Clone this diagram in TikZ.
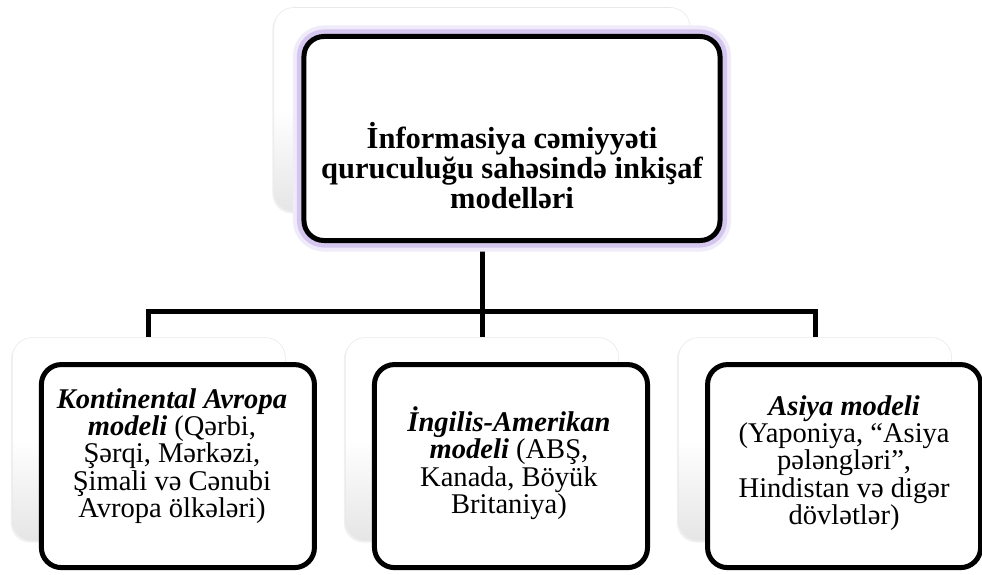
\documentclass[tikz,border=0pt]{standalone}
\usepackage{fontspec}
\setmainfont{Liberation Serif}
\usetikzlibrary{calc}
\usetikzlibrary{backgrounds}
\usetikzlibrary{shadows}
\definecolor{glowin}{RGB}{212,198,238}
\definecolor{glowout}{RGB}{240,235,250}
\tikzset{backcard/.style={rectangle, rounded corners=0.5cm, draw=black!9, line width=0.4pt, top color=white, bottom color=black!10, middle color=white, drop shadow={shadow xshift=-0.04cm, shadow yshift=-0.05cm, fill=black!20, opacity=0.3}},
frontbox/.style={rectangle, rounded corners=0.5cm, draw=black, line width=0.125cm, fill=white},
glowbox/.style={frontbox, preaction={draw=glowout, line width=0.55cm}, preaction={draw=glowin, line width=0.35cm}},
link/.style={line width=0.125cm, draw=black},
headtext/.style={align=center, font=\fontsize{21.7}{21.3}\selectfont\bfseries},
modeltext/.style={align=center, font=\fontsize{20.3}{19.5}\selectfont}}

\begin{document}
\begin{tikzpicture}[x=0.025cm, y=0.025cm]
\useasboundingbox (0,0) rectangle (982,574);

\node (topback) [backcard, minimum width=10.4cm, minimum height=5.1cm] at (482,464.5) {};
\node (midback) [backcard, minimum width=6.825cm, minimum height=5.075cm, below of=topback, node distance=8.2375cm] {};
\node (leftback) [backcard, minimum width=6.825cm, minimum height=5.075cm, left of=midback, node distance=8.325cm] {};
\node (rightback) [backcard, minimum width=6.825cm, minimum height=5.075cm, right of=midback, node distance=8.325cm] {};

\node (topfront) [glowbox, minimum width=10.4cm, minimum height=5.1cm] at ($(topback)+(30,-29)$) {};
\node (leftfront) [frontbox, minimum width=6.825cm, minimum height=5.075cm] at ($(leftback)+(29,-27)$) {};
\node (midfront) [frontbox, minimum width=6.825cm, minimum height=5.075cm] at ($(midback)+(29,-27)$) {};
\node (rightfront) [frontbox, minimum width=6.825cm, minimum height=5.075cm] at ($(rightback)+(29,-27)$) {};

\node (toptext) [headtext] at ($(topfront)+(0,-27)$) {İnformasiya cəmiyyəti\\quruculuğu sahəsində inkişaf\\modelləri};
\node (lefttext) [modeltext] at ($(leftfront)+(-6,10)$) {\textbf{\textit{Kontinental Avropa}}\\\textbf{\textit{modeli}} (Qərbi,\\Şərqi, Mərkəzi,\\Şimali və Cənubi\\Avropa ölkələri)};
\node (midtext) [modeltext] at ($(midfront)+(-2,3)$) {\textbf{\textit{İngilis-Amerikan}}\\\textbf{\textit{modeli}} (ABŞ,\\Kanada, Böyük\\Britaniya)};
\node (righttext) [modeltext] at ($(rightfront)+(0,3)$) {\textbf{\textit{Asiya modeli}}\\(Yaponiya, “Asiya\\pələngləri”,\\Hindistan və digər\\dövlətlər)};

\coordinate (bus) at (482,262);
\begin{scope}[on background layer]
\draw[link] (topback.south) -- (bus);
\draw[link] (leftback.north) |- (bus) -| (rightback.north);
\draw[link] (bus) -- (midback.north);
\end{scope}
\end{tikzpicture}
\end{document}
